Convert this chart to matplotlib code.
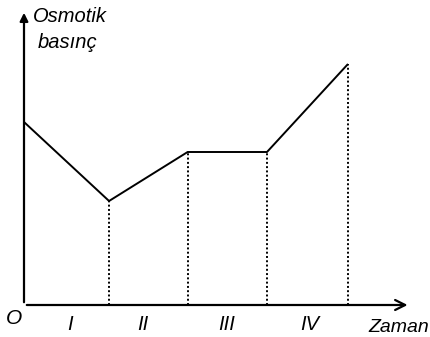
import matplotlib.pyplot as plt

# time points (segment borders) and osmotic pressure at each
zaman = [0, 1.05, 2.02, 3.0, 4.0]
basinc = [18.3, 10.4, 15.3, 15.3, 24.1]
dashed_x = zaman[1:]
dashed_y = basinc[1:]
evre_labels = ["I", "II", "III", "IV"]
evre_x = [0.57, 1.47, 2.5, 3.53]

plt.rcParams['font.family'] = ['Liberation Sans', 'DejaVu Sans']

fig = plt.figure(figsize=(4.3, 3.37), dpi=100)
ax = fig.add_axes([24/430, 32/337, 386/430, 297/337])
ax.set_xlim(0, 386/81)
ax.set_ylim(0, 29.7)
ax.axis("off")

# axes with arrows
ax.annotate("", xy=(0, 29.5), xytext=(0, 0),
            arrowprops=dict(arrowstyle="-|>", color="black", lw=1.6, mutation_scale=12),
            annotation_clip=False)
ax.annotate("", xy=(4.77, 0), xytext=(0, 0),
            arrowprops=dict(arrowstyle="->", color="black", lw=1.6, mutation_scale=18),
            annotation_clip=False)

ax.plot(zaman, basinc, color="black", lw=1.4, solid_capstyle="butt")
for x, y in zip(dashed_x, dashed_y):
    ax.plot([x, x], [0, y], color="black", lw=1.4, ls=(0, (1, 1.2)))

for x, lbl in zip(evre_x, evre_labels):
    ax.text(x, -2.0, lbl, ha="center", va="center", fontsize=14.5, style="italic")

ax.text(-0.02, -1.3, "O", ha="right", va="center", fontsize=15, style="italic")
ax.text(4.25, -2.3, "Zaman", ha="left", va="center", fontsize=14, style="italic")
ax.text(0.11, 28.9, "Osmotik", ha="left", va="center", fontsize=14.5, style="italic")
ax.text(0.17, 26.3, "basınç", ha="left", va="center", fontsize=14.5, style="italic")

fig.savefig("out.png", dpi=100)
